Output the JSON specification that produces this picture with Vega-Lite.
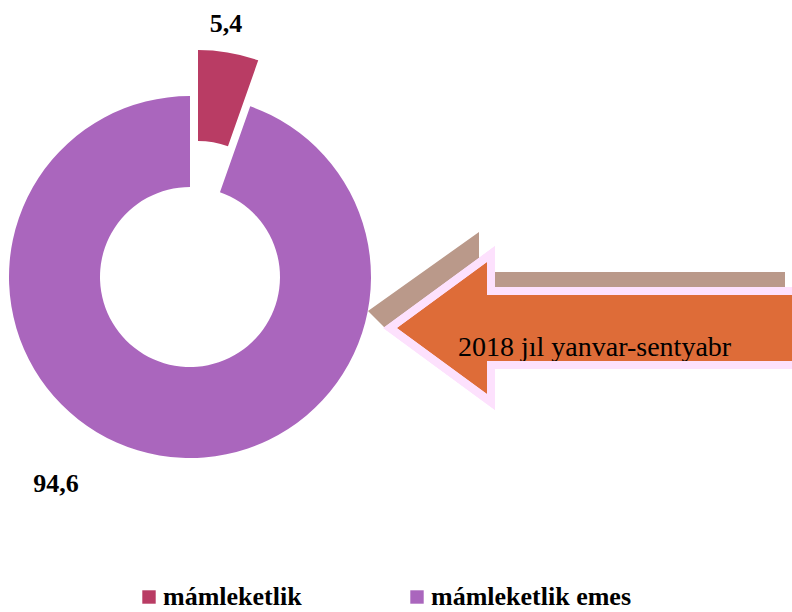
{
  "$schema": "https://vega.github.io/schema/vega-lite/v6.json",
  "width": 792,
  "height": 612,
  "autosize": {"type": "none"},
  "padding": 0,
  "background": "white",
  "config": {"view": {"stroke": null}},
  "datasets": {
    "pie": [
      {"cat": "mámleketlik", "value": 5.4, "label": "5,4"},
      {"cat": "mámleketlik emes", "value": 94.6, "label": "94,6"}
    ],
    "back": [
      {"i": 1, "x": 368, "y": 311},
      {"i": 2, "x": 479, "y": 232},
      {"i": 3, "x": 479, "y": 272},
      {"i": 4, "x": 785, "y": 272},
      {"i": 5, "x": 785, "y": 300},
      {"i": 6, "x": 480, "y": 300},
      {"i": 7, "x": 385, "y": 328}
    ],
    "front": [
      {"i": 1, "x": 390, "y": 328},
      {"i": 2, "x": 491, "y": 254},
      {"i": 3, "x": 491, "y": 291},
      {"i": 4, "x": 812, "y": 291},
      {"i": 5, "x": 812, "y": 365},
      {"i": 6, "x": 491, "y": 365},
      {"i": 7, "x": 491, "y": 402}
    ],
    "caption": [{"text": "2018 jıl yanvar-sentyabr"}]
  },
  "layer": [
    {
      "data": {"name": "pie"},
      "mark": {"type": "arc", "radius": 181, "radius2": 90},
      "encoding": {
        "x": {"datum": 190, "type": "quantitative", "scale": {"domain": [0, 792], "nice": false, "zero": false}, "axis": null},
        "y": {"datum": 277, "type": "quantitative", "scale": {"domain": [0, 612], "nice": false, "zero": false, "reverse": true}, "axis": null},
        "theta": {"field": "value", "type": "quantitative", "stack": true},
        "color": {
          "field": "cat", "type": "nominal",
          "scale": {"domain": ["mámleketlik", "mámleketlik emes"], "range": ["#B93C64", "#AA66BD"]},
          "legend": {
            "orient": "none", "legendX": 136, "legendY": 584, "direction": "horizontal",
            "title": null, "symbolType": "square", "symbolSize": 180, "symbolStrokeWidth": 0,
            "labelFont": "Liberation Serif", "labelFontWeight": "bold", "labelFontSize": 26,
            "labelColor": "black", "labelOffset": 1, "columnPadding": 102, "padding": 0, "labelLimit": 400
          }
        },
        "opacity": {"condition": {"test": "datum.cat == 'mámleketlik'", "value": 0}, "value": 1}
      }
    },
    {
      "data": {"name": "pie"},
      "mark": {"type": "arc", "radius": 181, "radius2": 90, "xOffset": 8, "yOffset": -46},
      "encoding": {
        "x": {"datum": 190, "type": "quantitative"},
        "y": {"datum": 277, "type": "quantitative"},
        "theta": {"field": "value", "type": "quantitative", "stack": true},
        "color": {"field": "cat", "type": "nominal"},
        "opacity": {"condition": {"test": "datum.cat == 'mámleketlik'", "value": 1}, "value": 0}
      }
    },
    {
      "data": {"name": "back"},
      "mark": {"type": "line", "interpolate": "linear-closed", "fill": "#BA998A", "stroke": null, "strokeWidth": 0},
      "encoding": {
        "x": {"field": "x", "type": "quantitative"},
        "y": {"field": "y", "type": "quantitative"},
        "order": {"field": "i", "type": "quantitative"}
      }
    },
    {
      "data": {"name": "front"},
      "mark": {"type": "line", "interpolate": "linear-closed", "fill": "#DE6C38", "stroke": "#FDE1FD", "strokeWidth": 8, "strokeJoin": "miter"},
      "encoding": {
        "x": {"field": "x", "type": "quantitative"},
        "y": {"field": "y", "type": "quantitative"},
        "order": {"field": "i", "type": "quantitative"}
      }
    },
    {
      "data": {"name": "caption"},
      "mark": {"type": "text", "font": "Liberation Serif", "fontSize": 28, "align": "left", "baseline": "alphabetic", "color": "black"},
      "encoding": {
        "x": {"datum": 458, "type": "quantitative"},
        "y": {"datum": 356, "type": "quantitative"},
        "text": {"field": "text"}
      }
    },
    {
      "data": {"name": "front"},
      "mark": {"type": "line", "interpolate": "linear-closed", "fill": null, "stroke": "#FDE1FD", "strokeWidth": 8, "strokeJoin": "miter"},
      "encoding": {
        "x": {"field": "x", "type": "quantitative"},
        "y": {"field": "y", "type": "quantitative"},
        "order": {"field": "i", "type": "quantitative"}
      }
    },
    {
      "data": {"name": "pie"},
      "transform": [{"filter": "datum.cat == 'mámleketlik'"}],
      "mark": {"type": "text", "font": "Liberation Serif", "fontWeight": "bold", "fontSize": 26, "align": "center", "baseline": "alphabetic", "color": "black"},
      "encoding": {
        "x": {"datum": 226, "type": "quantitative"},
        "y": {"datum": 32, "type": "quantitative"},
        "text": {"field": "label"}
      }
    },
    {
      "data": {"name": "pie"},
      "transform": [{"filter": "datum.cat == 'mámleketlik emes'"}],
      "mark": {"type": "text", "font": "Liberation Serif", "fontWeight": "bold", "fontSize": 26, "align": "center", "baseline": "alphabetic", "color": "black"},
      "encoding": {
        "x": {"datum": 56, "type": "quantitative"},
        "y": {"datum": 492, "type": "quantitative"},
        "text": {"field": "label"}
      }
    }
  ]
}
